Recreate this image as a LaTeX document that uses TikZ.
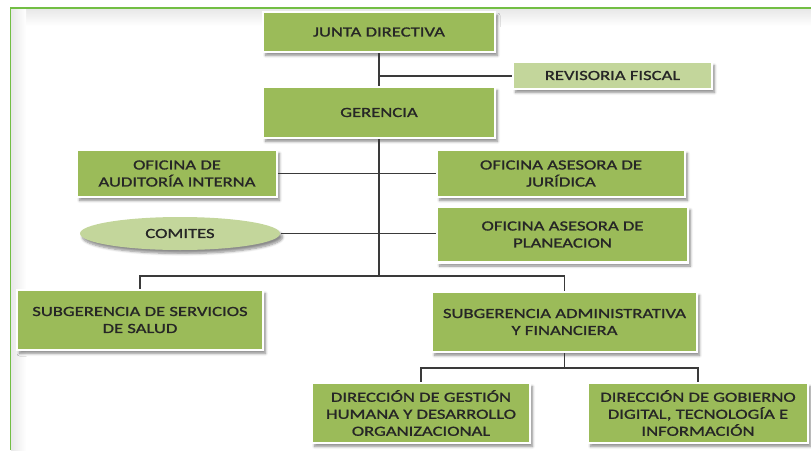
\documentclass[tikz,border=0pt]{standalone}
\usepackage{fontspec}
\setmainfont{Carlito}[FakeStretch=1.33,FakeBold=1.2]
\usetikzlibrary{shadows.blur,shapes.geometric}
\definecolor{boxgreen}{HTML}{9BBB59}
\definecolor{lightgreen}{HTML}{C3D69B}
\definecolor{framegreen}{HTML}{72BE44}
\definecolor{linegray}{HTML}{3A3A3A}
\definecolor{txt}{HTML}{262626}
\tikzset{
  unit/.style={draw=white, line width=2.4pt, fill=boxgreen, text=txt,
    align=center, inner sep=0pt, font=\fontsize{14}{17}\selectfont,
    blur shadow={shadow xshift=2.5pt, shadow yshift=-3.5pt, shadow blur steps=6, shadow blur radius=2.5pt, shadow opacity=45}},
  lightunit/.style={unit, fill=lightgreen},
  conn/.style={draw=linegray, line width=1.3pt}
}
\begin{document}
\begin{tikzpicture}[x=1pt,y=-1pt]
\useasboundingbox (0,0) rectangle (811,450);
% frame with soft inner shading
\shade[top color=gray!18, bottom color=white] (11,9) rectangle (811,26);
\shade[left color=gray!18, right color=white] (11,9) rectangle (26,450);
\draw[framegreen, line width=1.6pt] (10.5,450) -- (10.5,8) -- (811,8);

% nodes
\node[unit, minimum width=232, minimum height=40] (junta) at (379,32) {JUNTA DIRECTIVA};
\node[lightunit, minimum width=199, minimum height=27] (rev) at (612.5,75.5) {REVISORIA FISCAL};
\node[unit, minimum width=232, minimum height=51] (ger) at (379,112.5) {GERENCIA};
\node[unit, minimum width=200, minimum height=47] (aud) at (177,173.5) {OFICINA DE\\AUDITORÍA INTERNA};
\node[unit, minimum width=248, minimum height=47] (jur) at (561,173.5) {OFICINA ASESORA DE\\JURÍDICA};
\node[lightunit, ellipse, draw=none, minimum width=200, minimum height=33] (com) at (180,233.5) {COMITES};
\node[unit, minimum width=251, minimum height=56] (plan) at (562.5,234.5) {OFICINA ASESORA DE\\PLANEACION};
\node[unit, minimum width=246, minimum height=60] (salud) at (140,320) {SUBGERENCIA DE SERVICIOS\\DE SALUD};
\node[unit, minimum width=265, minimum height=60] (subadm) at (564.5,322) {SUBGERENCIA ADMINISTRATIVA\\Y FINANCIERA};
\node[unit, minimum width=218, minimum height=60] (dgh) at (421,413) {DIRECCIÓN DE GESTIÓN\\HUMANA Y DESARROLLO\\ORGANIZACIONAL};
\node[unit, minimum width=220, minimum height=60] (dgob) at (698,413) {DIRECCIÓN DE GOBIERNO\\DIGITAL, TECNOLOGÍA E\\INFORMACIÓN};

% connectors
\coordinate (jbr) at (379,76);
\coordinate (bus) at (379,276);
\coordinate (bus2) at (564.5,368);
\draw[conn] (junta.south) -- (ger.north);
\draw[conn] (jbr) -- (rev.west |- jbr);
\draw[conn] (ger.south) -- (bus);
\draw[conn] (aud.east) -- (jur.west |- aud.east);
\draw[conn] (com.east) -- (plan.west |- com.east);
\draw[conn] (salud.north) |- (bus) -| (subadm.north);
\draw[conn] (subadm.south) -- (bus2);
\draw[conn] (dgh.north) |- (bus2) -| (dgob.north);
\end{tikzpicture}
\end{document}
